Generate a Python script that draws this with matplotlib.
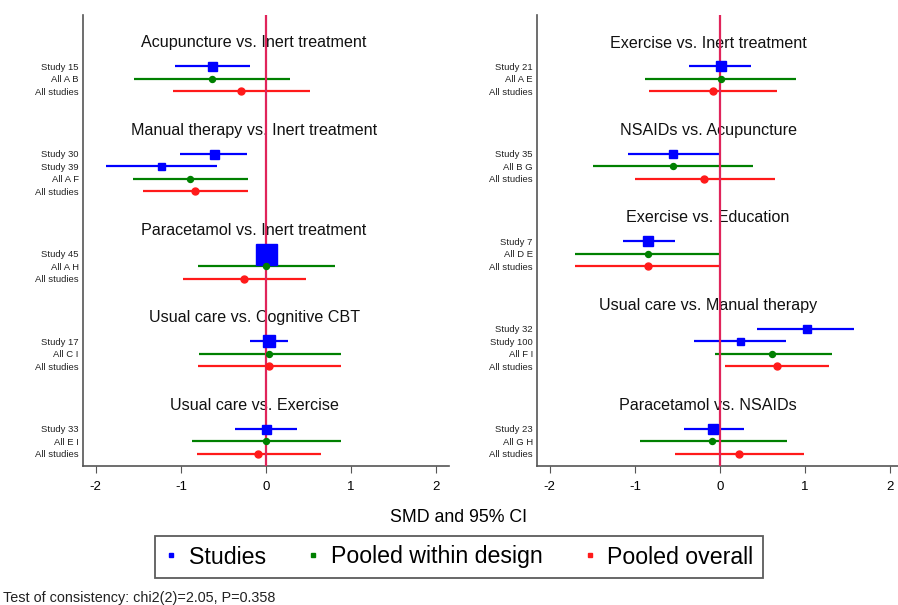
import matplotlib
matplotlib.use('Agg')
import matplotlib.pyplot as plt
from matplotlib.lines import Line2D

plt.rcParams['font.family'] = ['Liberation Sans', 'DejaVu Sans']

# comparisons shown in each panel
left_titles = ['Acupuncture vs. Inert treatment', 'Manual therapy vs. Inert treatment',
               'Paracetamol vs. Inert treatment', 'Usual care vs. Cognitive CBT',
               'Usual care vs. Exercise']
left_labels = [['Study 15', 'All A B', 'All studies'],
               ['Study 30', 'Study 39', 'All A F', 'All studies'],
               ['Study 45', 'All A H', 'All studies'],
               ['Study 17', 'All C I', 'All studies'],
               ['Study 33', 'All E I', 'All studies']]
left_est = [[-0.63, -0.63, -0.29],
            [-0.61, -1.23, -0.89, -0.83],
            [0.00, 0.00, -0.26],
            [0.04, 0.04, 0.04],
            [0.00, 0.00, -0.09]]
left_lo = [[-1.07, -1.55, -1.09],
           [-1.01, -1.88, -1.56, -1.44],
           [-0.10, -0.80, -0.98],
           [-0.19, -0.79, -0.80],
           [-0.36, -0.87, -0.81]]
left_hi = [[-0.19, 0.28, 0.52],
           [-0.22, -0.58, -0.21, -0.21],
           [0.10, 0.81, 0.47],
           [0.26, 0.88, 0.88],
           [0.36, 0.88, 0.65]]

right_titles = ['Exercise vs. Inert treatment', 'NSAIDs vs. Acupuncture',
                'Exercise vs. Education', 'Usual care vs. Manual therapy',
                'Paracetamol vs. NSAIDs']
right_labels = [['Study 21', 'All A E', 'All studies'],
                ['Study 35', 'All B G', 'All studies'],
                ['Study 7', 'All D E', 'All studies'],
                ['Study 32', 'Study 100', 'All F I', 'All studies'],
                ['Study 23', 'All G H', 'All studies']]
right_est = [[0.01, 0.01, -0.08],
             [-0.55, -0.55, -0.19],
             [-0.85, -0.85, -0.85],
             [1.02, 0.23, 0.61, 0.67],
             [-0.08, -0.09, 0.22]]
right_lo = [[-0.36, -0.88, -0.84],
            [-1.08, -1.49, -1.00],
            [-1.14, -1.70, -1.70],
            [0.44, -0.31, -0.06, 0.06],
            [-0.42, -0.94, -0.53]]
right_hi = [[0.37, 0.89, 0.67],
            [0.00, 0.39, 0.65],
            [-0.53, 0.00, 0.00],
            [1.58, 0.78, 1.31, 1.28],
            [0.28, 0.79, 0.99]]

# relative study weights (drive the square size)
study_names = ['Study 15', 'Study 30', 'Study 39', 'Study 45', 'Study 17', 'Study 33',
               'Study 21', 'Study 35', 'Study 7', 'Study 32', 'Study 100', 'Study 23']
study_weights = [9, 9, 7, 21, 12, 9, 10, 8, 10, 8, 7, 10]
weight_of = dict(zip(study_names, study_weights))

BLUE = '#0000ff'
GREEN = '#008000'
RED = '#ff1a1a'
VLINE = '#e0245a'

fig = plt.figure(figsize=(8.98, 6.05), dpi=100)


def draw_panel(ax, titles, labels, est, lo, hi):
    ticks, ticklabels = [], []
    pos = 0.0
    for title, lab, e, l, h in zip(titles, labels, est, lo, hi):
        ax.text(-0.14, pos, title, ha='center', va='center', fontsize=11.6, color='#111111')
        first = pos + 1.85
        for i, name in enumerate(lab):
            y = first + i
            if name.startswith('Study'):
                c, m, ms = BLUE, 's', weight_of[name] * 0.72
            elif name == 'All studies':
                c, m, ms = RED, 'o', 5.0
            else:
                c, m, ms = GREEN, 'o', 4.3
            ax.plot([l[i], h[i]], [y, y], color=c, lw=1.6, solid_capstyle='butt', zorder=2)
            ax.plot(e[i], y, marker=m, color=c, ms=ms, mec=c, zorder=4)
            ticks.append(y)
            ticklabels.append(name)
        pos += len(lab) + 4
    ax.axvline(0, color=VLINE, lw=1.6, zorder=3)
    ax.set_xlim(-2.15, 2.15)
    ax.set_ylim(33.84, -2.24)
    ax.set_yticks(ticks)
    ax.set_yticklabels(ticklabels, fontsize=6.8, color='#222222')
    ax.tick_params(axis='y', length=0, pad=3)
    ax.set_xticks([-2, -1, 0, 1, 2])
    ax.set_xticklabels(['-2', '-1', '0', '1', '2'], fontsize=9.5)
    ax.tick_params(axis='x', length=5, width=0.8, color='#555555', pad=6)
    for s in ['top', 'right']:
        ax.spines[s].set_visible(False)
    for s in ['left', 'bottom']:
        ax.spines[s].set_color('#555555')
        ax.spines[s].set_linewidth(1.2)


ax1 = fig.add_axes([83 / 898, 139 / 605, 366 / 898, 451 / 605])
ax2 = fig.add_axes([537 / 898, 139 / 605, 366 / 898, 451 / 605])
draw_panel(ax1, left_titles, left_labels, left_est, left_lo, left_hi)
draw_panel(ax2, right_titles, right_labels, right_est, right_lo, right_hi)

fig.text(458 / 898, 1 - 517 / 605, 'SMD and 95% CI', ha='center', va='center', fontsize=12.8)

handles = [Line2D([], [], ls='', marker='s', ms=2.8, color=BLUE),
           Line2D([], [], ls='', marker='s', ms=2.8, color=GREEN),
           Line2D([], [], ls='', marker='s', ms=2.8, color=RED)]
leg = fig.legend(handles, ['Studies', 'Pooled within design', 'Pooled overall'],
                 loc='center', bbox_to_anchor=(459 / 898, 1 - 557 / 605), ncol=3,
                 fontsize=16.7, frameon=True, fancybox=False, handlelength=0.6,
                 handletextpad=0.45, columnspacing=1.75, borderpad=0.4)
leg.get_frame().set_edgecolor('#333333')
leg.get_frame().set_linewidth(1.3)

fig.text(3 / 898, 1 - 598 / 605, 'Test of consistency: chi2(2)=2.05, P=0.358',
         ha='left', va='center', fontsize=10.4, color='#222222')

fig.savefig('out.png', dpi=100)
